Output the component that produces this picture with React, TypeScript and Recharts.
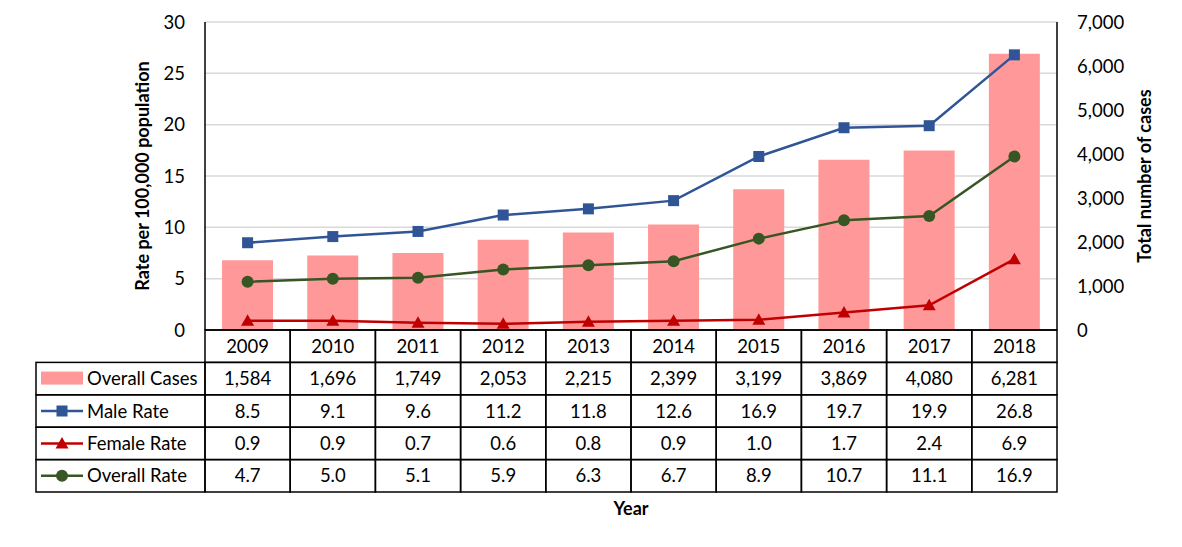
import React from 'react'
import { ComposedChart, Bar, Line, XAxis, YAxis, CartesianGrid } from 'recharts'

const years = ['2009', '2010', '2011', '2012', '2013', '2014', '2015', '2016', '2017', '2018']
const overallCases = [1584, 1696, 1749, 2053, 2215, 2399, 3199, 3869, 4080, 6281]
const maleRate = [8.5, 9.1, 9.6, 11.2, 11.8, 12.6, 16.9, 19.7, 19.9, 26.8]
const femaleRate = [0.9, 0.9, 0.7, 0.6, 0.8, 0.9, 1.0, 1.7, 2.4, 6.9]
const overallRate = [4.7, 5.0, 5.1, 5.9, 6.3, 6.7, 8.9, 10.7, 11.1, 16.9]

const leftTicks = [0, 5, 10, 15, 20, 25, 30]
const rightTicks = [0, 1000, 2000, 3000, 4000, 5000, 6000, 7000]

const data = years.map((year, i) => ({
  year,
  cases: overallCases[i],
  male: maleRate[i],
  female: femaleRate[i],
  overall: overallRate[i],
}))

const PINK = '#FF9999'
const BLUE = '#2F5597'
const RED = '#C00000'
const GREEN = '#375623'
const FONT = 'Lato, "Noto Sans", sans-serif'
const FS = 18.5
const TITLE_FS = 18

const PLOT_LEFT = 205
const PLOT_RIGHT = 1057
const PLOT_TOP = 22
const PLOT_BOTTOM = 330
const COL_W = (PLOT_RIGHT - PLOT_LEFT) / years.length
const ROW_H = 32.4
const TABLE_LEFT = 36

const fmt = (v: number) => v.toLocaleString('en-US')

const tableRows = [
  { name: 'Overall Cases', kind: 'bar', color: PINK, values: overallCases.map(fmt) },
  { name: 'Male Rate', kind: 'square', color: BLUE, values: maleRate.map(v => v.toFixed(1)) },
  { name: 'Female Rate', kind: 'triangle', color: RED, values: femaleRate.map(v => v.toFixed(1)) },
  { name: 'Overall Rate', kind: 'circle', color: GREEN, values: overallRate.map(v => v.toFixed(1)) },
]

const Marker = ({ kind, cx, cy, color }: any) => {
  if (kind === 'square') return <rect x={cx - 5.5} y={cy - 5.5} width={11} height={11} fill={color} />
  if (kind === 'triangle')
    return <polygon points={`${cx},${cy - 6.5} ${cx + 6.5},${cy + 5} ${cx - 6.5},${cy + 5}`} fill={color} />
  return <circle cx={cx} cy={cy} r={6} fill={color} />
}

const LegendCell = ({ row, r }: any) => {
  const top = PLOT_BOTTOM + ROW_H * (r + 1)
  const cy = top + ROW_H / 2
  return (
    <g>
      <rect x={TABLE_LEFT} y={top} width={PLOT_LEFT - TABLE_LEFT} height={ROW_H} fill="none" stroke="#000" strokeWidth={1.5} />
      {row.kind === 'bar' ? (
        <rect x={41} y={cy - 7} width={42} height={13} fill={row.color} />
      ) : (
        <g>
          <line x1={41} x2={83} y1={cy} y2={cy} stroke={row.color} strokeWidth={2.5} />
          <Marker kind={row.kind} cx={62} cy={cy} color={row.color} />
        </g>
      )}
      <text x={87} y={cy} dy="0.36em" fontSize={FS} fill="#000" fontFamily={FONT}>{row.name}</text>
    </g>
  )
}

const TableTick = (props: any) => {
  const { x, payload } = props
  const i = payload.index
  const left = x - COL_W / 2
  return (
    <g>
      <rect x={left} y={PLOT_BOTTOM} width={COL_W} height={ROW_H} fill="none" stroke="#000" strokeWidth={1.5} />
      <text x={x} y={PLOT_BOTTOM + ROW_H / 2} dy="0.36em" textAnchor="middle" fontSize={FS} fill="#000" fontFamily={FONT}>
        {payload.value}
      </text>
      {tableRows.map((row, r) => {
        const top = PLOT_BOTTOM + ROW_H * (r + 1)
        return (
          <g key={row.name}>
            <rect x={left} y={top} width={COL_W} height={ROW_H} fill="none" stroke="#000" strokeWidth={1.5} />
            <text x={x} y={top + ROW_H / 2} dy="0.36em" textAnchor="middle" fontSize={FS} fill="#000" fontFamily={FONT}>
              {row.values[i]}
            </text>
          </g>
        )
      })}
      {i === 0 && tableRows.map((row, r) => <LegendCell key={row.name} row={row} r={r} />)}
    </g>
  )
}

const dotFor = (kind: string, color: string) => (p: any) => (
  <Marker key={p.index} kind={kind} cx={p.cx} cy={p.cy} color={color} />
)

const midY = (PLOT_TOP + PLOT_BOTTOM) / 2

export default function App() {
  return (
    <div style={{ position: 'absolute', left: 0, top: 0, fontFamily: FONT, background: '#fff' }}>
      <ComposedChart
        width={1182}
        height={547}
        data={data}
        margin={{ top: PLOT_TOP, right: 0, left: 0, bottom: 47 }}
        barCategoryGap="20%"
      >
        <CartesianGrid yAxisId="left" vertical={false} stroke="#D9D9D9" strokeWidth={1.5} />
        <XAxis
          dataKey="year"
          interval={0}
          height={547 - PLOT_BOTTOM - 47}
          axisLine={{ stroke: '#000', strokeWidth: 1.5 }}
          tickLine={false}
          tick={<TableTick />}
          label={{
            position: 'insideBottom',
            content: () => (
              <text x={(PLOT_LEFT + PLOT_RIGHT) / 2} y={509} dy="0.36em" textAnchor="middle" fontSize={TITLE_FS} fontWeight="bold" fill="#000" fontFamily={FONT}>
                Year
              </text>
            ),
          }}
        />
        <YAxis
          yAxisId="left"
          orientation="left"
          width={PLOT_LEFT}
          domain={[0, 30]}
          ticks={leftTicks}
          interval={0}
          axisLine={{ stroke: '#000', strokeWidth: 1.5 }}
          tickLine={false}
          tickSize={0}
          tickMargin={20}
          tick={{ fill: '#000', fontSize: FS, fontFamily: FONT }}
          label={{
            position: 'center',
            content: () => (
              <text x={143} y={midY} textAnchor="middle" dy="0.36em" fontSize={TITLE_FS} fontWeight="bold" fill="#000" fontFamily={FONT} transform={`rotate(-90 143 ${midY})`}>
                Rate per 100,000 population
              </text>
            ),
          }}
        />
        <YAxis
          yAxisId="right"
          orientation="right"
          width={1182 - PLOT_RIGHT}
          domain={[0, 7000]}
          ticks={rightTicks}
          interval={0}
          axisLine={{ stroke: '#000', strokeWidth: 1.5 }}
          tickLine={false}
          tickSize={0}
          tickMargin={20}
          tickFormatter={(v: number) => fmt(v)}
          tick={{ fill: '#000', fontSize: FS, fontFamily: FONT }}
          label={{
            position: 'center',
            content: () => (
              <text x={1145} y={midY} textAnchor="middle" dy="0.36em" fontSize={TITLE_FS} fontWeight="bold" fill="#000" fontFamily={FONT} transform={`rotate(-90 1145 ${midY})`}>
                Total number of cases
              </text>
            ),
          }}
        />
        <Bar yAxisId="right" dataKey="cases" fill={PINK} isAnimationActive={false} />
        <Line yAxisId="left" dataKey="male" stroke={BLUE} strokeWidth={2.5} dot={dotFor('square', BLUE)} activeDot={false} isAnimationActive={false} />
        <Line yAxisId="left" dataKey="female" stroke={RED} strokeWidth={2.5} dot={dotFor('triangle', RED)} activeDot={false} isAnimationActive={false} />
        <Line yAxisId="left" dataKey="overall" stroke={GREEN} strokeWidth={2.5} dot={dotFor('circle', GREEN)} activeDot={false} isAnimationActive={false} />
      </ComposedChart>
    </div>
  )
}
